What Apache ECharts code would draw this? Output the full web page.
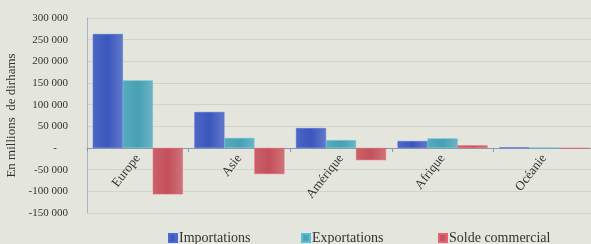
<!DOCTYPE html>
<html>
<head>
<meta charset="utf-8">
<script src="https://cdn.jsdelivr.net/npm/echarts@6/dist/echarts.min.js"></script>
<style>
  html, body { margin: 0; padding: 0; background: #e4e5dc; }
  #chart { width: 591px; height: 244px; }
</style>
</head>
<body>
<div id="chart"></div>
<script>
const regions = ['Europe', 'Asie', 'Amérique', 'Afrique', 'Océanie'];
const seriesNames = ['Importations', 'Exportations', 'Solde commercial'];
const importations = [263000, 83000, 46000, 16000, 1500];
const exportations = [156000, 23000, 18000, 22000, 400];
const solde = [-107000, -60000, -28000, 6000, -1100];
const colors = ['#3b57bd', '#47a0b5', '#c4505a'];

function shade(c) {
  return new echarts.graphic.LinearGradient(0, 0, 1, 0, [
    { offset: 0, color: echarts.color.lift(c, 0.1) },
    { offset: 0.5, color: c },
    { offset: 1, color: echarts.color.lift(c, 0.2) }
  ]);
}

function fmt(v) {
  if (v === 0) return '-    ';
  const s = String(Math.abs(v)).replace(/\B(?=(\d{3})+(?!\d))/g, ' ');
  return (v < 0 ? '-' : '') + s;
}

const chart = echarts.init(document.getElementById('chart'));
const font = '"Liberation Serif", "DejaVu Serif", serif';
const legendLeft = [163, 296, 433];
chart.setOption({
  backgroundColor: '#e4e5dc',
  textStyle: { fontFamily: font },
  grid: { left: 87, right: -4, top: 18, bottom: 31, outerBoundsMode: 'none', containLabel: false },
  legend: seriesNames.map((n, i) => ({
    bottom: -6,
    left: legendLeft[i],
    itemWidth: 8,
    itemHeight: 8,
    icon: 'rect',
    data: [n],
    textStyle: { fontFamily: font, fontSize: 14, color: '#333', padding: [0, 0, 0, -3] }
  })),
  xAxis: {
    type: 'category',
    data: regions,
    position: 'bottom',
    offset: -65,
    axisLine: { onZero: false, lineStyle: { color: '#8d9aaa' } },
    axisTick: { show: true, length: 4, lineStyle: { color: '#8d9aaa' } },
    axisLabel: { rotate: 52, fontFamily: font, fontSize: 13, color: '#333', margin: 8 }
  },
  yAxis: {
    type: 'value',
    min: -150000,
    max: 300000,
    interval: 50000,
    name: 'En millions  de dirhams',
    nameLocation: 'middle',
    nameGap: 68,
    nameTextStyle: { fontFamily: font, fontSize: 13, color: '#333' },
    axisLine: { show: true, lineStyle: { color: '#a9b4c6' } },
    axisTick: { show: false },
    axisLabel: { fontFamily: font, fontSize: 11, color: '#333', margin: 19, formatter: fmt },
    splitLine: { lineStyle: { color: '#d2d3c9', width: 1 } }
  },
  series: [importations, exportations, solde].map((d, i) => ({
    name: seriesNames[i],
    type: 'bar',
    data: d,
    barGap: '0%',
    barCategoryGap: '11.4%',
    itemStyle: { color: shade(colors[i]), borderColor: echarts.color.lift(colors[i], -0.2), borderWidth: 0.5 },
    emphasis: { disabled: true }
  })),
  color: colors,
  animation: false
});
</script>
</body>
</html>
